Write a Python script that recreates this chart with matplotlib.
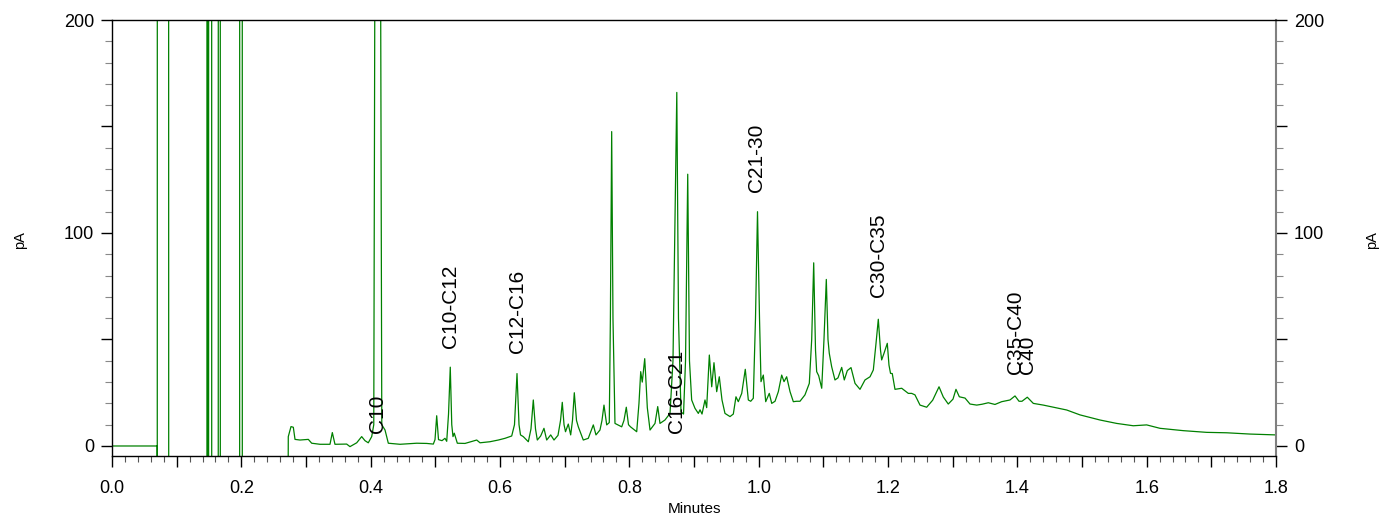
import matplotlib
matplotlib.use("Agg")
import matplotlib.pyplot as plt
from matplotlib.ticker import MultipleLocator, FixedLocator, FuncFormatter

plt.rcParams['font.family'] = ['Liberation Sans', 'DejaVu Sans']

# retention time (min) and detector signal (pA)
time_min = [
    0.0, 0.0698, 0.0700, 0.0701, 0.0875, 0.0877, 0.1472, 0.1473, 0.1474, 0.1475,
    0.1494, 0.1495, 0.1541, 0.1542, 0.1643, 0.1644, 0.1674, 0.1675, 0.1974, 0.1975,
    0.2014, 0.2015, 0.2721,
    0.2722, 0.2726, 0.2768, 0.2804, 0.2830, 0.2907, 0.3036, 0.3088, 0.3216, 0.3371,
    0.3407, 0.3448, 0.3629, 0.3680, 0.3784, 0.3861, 0.3912, 0.3963, 0.4016, 0.4048,
    0.4079, 0.4107, 0.4138, 0.4172, 0.4222, 0.4273, 0.4454, 0.4712, 0.4866, 0.4969,
    0.4995, 0.5021, 0.5049, 0.5103, 0.5149, 0.5176, 0.5204, 0.5231, 0.5254, 0.5273,
    0.5293, 0.5340, 0.5459, 0.5640, 0.5691, 0.5845, 0.5974, 0.6077, 0.6181, 0.6224,
    0.6263, 0.6294, 0.6317, 0.6360, 0.6438, 0.6479, 0.6515, 0.6549, 0.6577, 0.6629,
    0.6680, 0.6722, 0.6784, 0.6835, 0.6897, 0.6936, 0.6963, 0.6990, 0.7013, 0.7056,
    0.7093, 0.7121, 0.7149, 0.7183, 0.7211, 0.7288, 0.7365, 0.7443, 0.7484, 0.7546,
    0.7577, 0.7608, 0.7650, 0.7690, 0.7707, 0.7727, 0.7747, 0.7778, 0.7882, 0.7917,
    0.7953, 0.7987, 0.8018, 0.8114, 0.8149, 0.8176, 0.8200, 0.8238, 0.8258, 0.8278,
    0.8320, 0.8397, 0.8439, 0.8474, 0.8551, 0.8629, 0.8675, 0.8703, 0.8734, 0.8760,
    0.8799, 0.8838, 0.8869, 0.8903, 0.8930, 0.8964, 0.9015, 0.9067, 0.9093, 0.9124,
    0.9170, 0.9196, 0.9216, 0.9237, 0.9274, 0.9309, 0.9351, 0.9391, 0.9433, 0.9479,
    0.9557, 0.9608, 0.9649, 0.9685, 0.9738, 0.9793, 0.9840, 0.9877, 0.9917, 0.9951,
    0.9982, 1.0013, 1.0036, 1.0072, 1.0109, 1.0164, 1.0202, 1.0253, 1.0304, 1.0356,
    1.0392, 1.0433, 1.0485, 1.0536, 1.0588, 1.0639, 1.0716, 1.0783, 1.0820, 1.0851,
    1.0879, 1.0897, 1.0928, 1.0975, 1.1010, 1.1046, 1.1072, 1.1092, 1.1129, 1.1180,
    1.1227, 1.1284, 1.1324, 1.1371, 1.1428, 1.1490, 1.1567, 1.1644, 1.1722, 1.1773,
    1.1814, 1.1850, 1.1884, 1.1902, 1.1938, 1.1989, 1.2015, 1.2039, 1.2066, 1.2108,
    1.2212, 1.2314, 1.2366, 1.2417, 1.2495, 1.2598, 1.2691, 1.2789, 1.2855, 1.2932,
    1.3005, 1.3051, 1.3103, 1.3191, 1.3268, 1.3372, 1.3454, 1.3551, 1.3654, 1.3758,
    1.3886, 1.3964, 1.4026, 1.4072, 1.4154, 1.4247, 1.4402, 1.4556, 1.4763, 1.4969,
    1.5278, 1.5536, 1.5793, 1.6000, 1.6206, 1.6566, 1.6928, 1.7238, 1.7598, 1.8000,
]
signal_pa = [
    0.0, 0.0, -30, 400, 400, -30, -30, 400, 400, -30,
    -30, 400, 400, -30, -30, 400, 400, -30, -30, 400,
    400, -30, -30,
    -30, 4.4, 9.1, 8.8, 3.1, 2.8, 3.1, 1.3, 0.8, 0.8,
    6.3, 0.8, 0.9, -0.3, 1.5, 4.4, 2.5, 1.5, 4.4, 10,
    400, 500, 400, 10, 7.5, 1.3, 0.8, 1.3, 1.2, 0.9,
    3.0, 14.2, 3.0, 2.5, 3.6, 2.2, 15, 37, 10, 4.4,
    6.0, 1.3, 1.2, 2.8, 1.5, 2.0, 2.8, 3.6, 4.7, 10,
    34, 10, 5.2, 4.4, 2.0, 8.0, 21.6, 8.0, 2.8, 4.7,
    8.3, 2.8, 5.2, 2.8, 5.0, 12, 20.5, 10, 6.7, 10.3,
    5.2, 12, 25, 12, 9.0, 2.8, 3.6, 9.9, 5.2, 7.5,
    12, 19.2, 9.9, 11, 60, 147.6, 60, 10.6, 9.0, 12,
    18.2, 10, 9.0, 6.7, 20, 34.9, 30, 41, 30, 18,
    7.5, 10.6, 18.5, 10.6, 12.2, 15.3, 40, 100, 166, 60,
    16, 15, 40, 127.6, 40, 21.6, 17.7, 15.3, 17, 15,
    21.6, 18, 30, 42.7, 27.8, 39.1, 25.5, 32.5, 21.6, 15.3,
    13.8, 15, 23.1, 20.8, 24.7, 36, 21.6, 21, 22.4, 60,
    110, 60, 30.2, 33.3, 20.8, 24.7, 20, 21, 25.5, 33.3,
    30.2, 32.5, 25.5, 20.8, 21, 21, 24, 29.4, 50, 86,
    45, 34.9, 33, 27.1, 50, 78.2, 50, 43.5, 37.2, 31,
    32, 36.9, 31, 35.4, 36.8, 29.4, 26.6, 31, 32.5, 35.7,
    48, 59.5, 45, 40.4, 43.5, 48.2, 38, 34.1, 34, 26.6,
    27.1, 24.7, 24.7, 24, 19.2, 18.2, 21.5, 27.8, 23, 19.7,
    22, 26.6, 23.1, 22.5, 19.7, 19.2, 19.6, 20.3, 19.5, 20.8,
    21.6, 23.5, 21, 21, 22.9, 20, 19.2, 18.2, 16.9, 14.6,
    12.2, 10.6, 9.5, 9.9, 8.3, 7.2, 6.4, 6.2, 5.6, 5.2,
]

# peak group annotations
label_text = ["C10", "C10-C12", "C12-C16", "C16-C21", "C21-30", "C30-C35", "C35-C40", "C40"]
label_time = [0.4106, 0.5235, 0.6263, 0.8737, 0.9974, 1.1846, 1.3979, 1.4157]
label_y = [6.0, 45.9, 43.5, 6.0, 119.4, 70.1, 33.7, 33.7]

x_tick_labels = ["0.0", "0.2", "0.4", "0.6", "0.8", "1.0", "1.2", "1.4", "1.6", "1.8"]
y_tick_labels = ["0", "100", "200"]

fig = plt.figure(figsize=(13.82, 5.14), dpi=100)
ax = fig.add_axes([112 / 1382, 58 / 514, 1164 / 1382, 436 / 514])

ax.plot(time_min, signal_pa, color='#008000', lw=0.9)
ax.set_xlim(0, 1.8)
ax.set_ylim(-4.7, 200)

for t, txt, yv in zip(label_time, label_text, label_y):
    ax.text(t, yv, txt, rotation=90, ha='center', va='bottom', fontsize=15, color='black')

# x axis ticks
ax.xaxis.set_major_locator(MultipleLocator(0.1))
ax.xaxis.set_minor_locator(MultipleLocator(0.02))
xlab = {round(float(s), 1): s for s in x_tick_labels}
ax.xaxis.set_major_formatter(FuncFormatter(lambda v, p: xlab.get(round(v, 1), "") if abs(round(v * 10) % 2) == 0 else ""))
ax.tick_params(axis='x', which='major', direction='out', length=8, width=1, labelsize=13, pad=9)
ax.tick_params(axis='x', which='minor', direction='out', length=4, width=0.8, color='#555555')

# y axis ticks
ylab = {int(s): s for s in y_tick_labels}
ax.yaxis.set_major_locator(FixedLocator([0, 50, 100, 150, 200]))
ax.yaxis.set_minor_locator(MultipleLocator(10))
ax.yaxis.set_major_formatter(FuncFormatter(lambda v, p: ylab.get(int(round(v)), "")))
ax.tick_params(axis='y', which='major', direction='out', length=8, width=1, labelsize=13,
               left=True, right=True, labelleft=True, labelright=True, pad=5)
ax.tick_params(axis='y', which='minor', direction='out', length=5, width=0.8,
               left=True, right=True, color='#888888')

for s in ['left', 'bottom', 'top']:
    ax.spines[s].set_color('black')
    ax.spines[s].set_linewidth(1.0)
ax.spines['right'].set_color('#808080')
ax.spines['right'].set_linewidth(1.5)

ax.set_xlabel("Minutes", fontsize=11, labelpad=4)
fig.text(20 / 1382, 1 - 240 / 514, "pA", rotation=90, ha='center', va='center', fontsize=10.5)
fig.text(1372 / 1382, 1 - 240 / 514, "pA", rotation=90, ha='center', va='center', fontsize=10.5)

fig.savefig("out.png", dpi=100)
